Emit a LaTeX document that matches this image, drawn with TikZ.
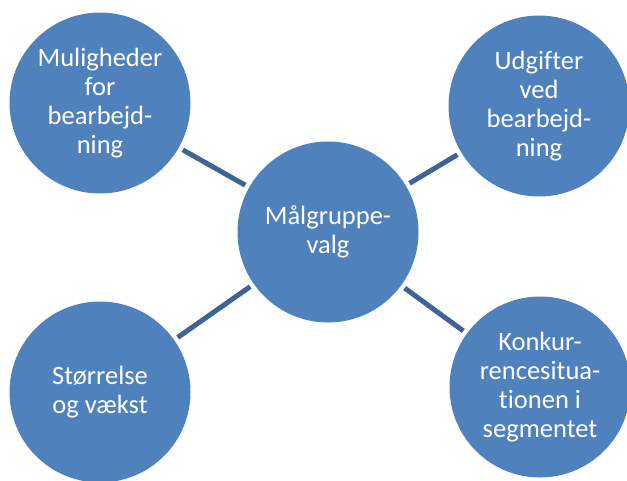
\documentclass[tikz,border=0pt]{standalone}
\usepackage{fontspec}
\setmainfont[Ligatures=NoCommon]{Carlito}
\definecolor{bubblefill}{HTML}{4F81BD}
\definecolor{linkline}{HTML}{3D6495}
\begin{document}
\begin{tikzpicture}[x=1pt,y=-1pt,
  bubble/.style={circle,fill=bubblefill,draw=none,minimum size=181pt,inner sep=0pt,outer sep=0pt},
  bubbletext/.style={text=white,align=center,inner sep=0pt,font=\fontsize{26.5}{29}\selectfont},
  link/.style={draw=linkline,line width=5pt,shorten <=4.5pt,shorten >=4.5pt}]
\useasboundingbox (0,0) rectangle (627,480);

% the five circles
\node[bubble] (c)  at (328,232) {};
\node[bubble] (tl) at (100,103) {};
\node[bubble] (tr) at (539,106) {};
\node[bubble] (bl) at (100,392) {};
\node[bubble] (br) at (540,387) {};

% spokes from the middle circle to the outer ones
\draw[link] (tl) -- (c);
\draw[link] (c) -- (tr);
\draw[link] (bl) -- (c);
\draw[link] (c) -- (br);

% labels
\node[bubbletext] (c-text)  at (c)  {Målgruppe-\\valg};
\node[bubbletext] (tl-text) at (tl) {Muligheder\\for\\bearbejd-\\ning};
\node[bubbletext] (tr-text) at (tr) {Udgifter\\ved\\bearbejd-\\ning};
\node[bubbletext] (bl-text) at (bl) {Størrelse\\og vækst};
\node[bubbletext] (br-text) at (br) {Konkur-\\rencesitua-\\tionen i\\segmentet};
\end{tikzpicture}
\end{document}
